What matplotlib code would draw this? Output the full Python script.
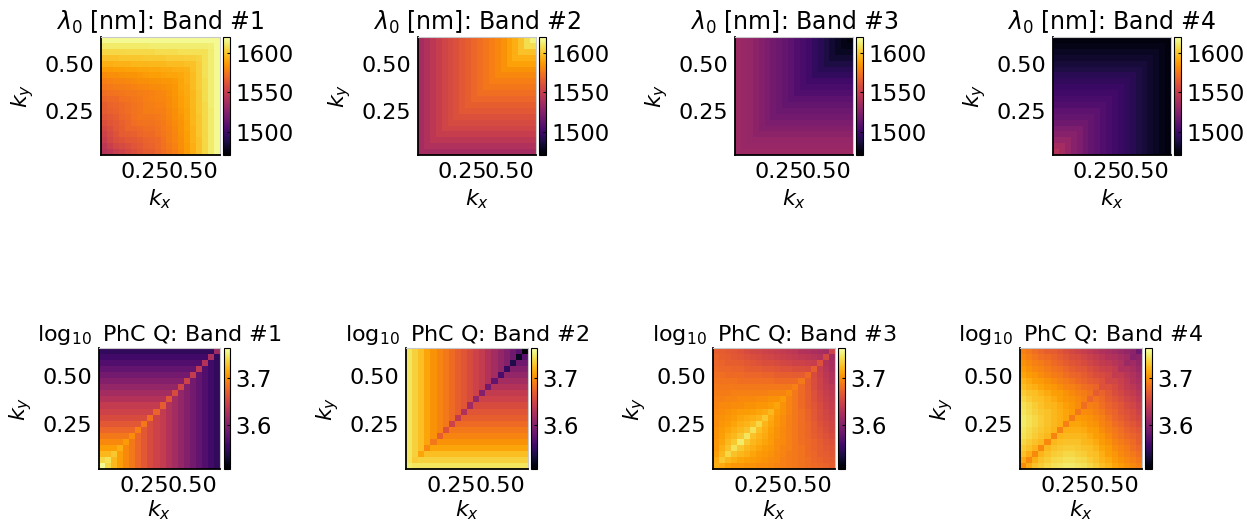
import numpy as np
import matplotlib
matplotlib.use("Agg")
import matplotlib.pyplot as plt
from matplotlib.ticker import FormatStrFormatter

# k grid (20 x 20 cells), both axes
k_lo, k_hi, n_k = 0.015, 0.643, 20

# heatmaps are symmetric in kx <-> ky: each list holds row j (ky index), cells i = 0..j (kx index)
lam_band1 = [
    [1543],
    [1546, 1551],
    [1550, 1555, 1559],
    [1553, 1557, 1561, 1565],
    [1556, 1559, 1563, 1566, 1569],
    [1559, 1562, 1564, 1567, 1569, 1572],
    [1562, 1564, 1566, 1569, 1571, 1573, 1575],
    [1565, 1567, 1568, 1570, 1572, 1574, 1575, 1577],
    [1566, 1568, 1569, 1571, 1572, 1574, 1575, 1577, 1578],
    [1569, 1570, 1571, 1573, 1574, 1575, 1576, 1578, 1579, 1580],
    [1572, 1573, 1574, 1575, 1576, 1576, 1577, 1578, 1579, 1580, 1581],
    [1575, 1576, 1577, 1577, 1578, 1579, 1580, 1581, 1582, 1582, 1583, 1584],
    [1578, 1579, 1580, 1580, 1581, 1582, 1583, 1583, 1584, 1585, 1586, 1586, 1587],
    [1582, 1583, 1583, 1584, 1585, 1585, 1586, 1587, 1588, 1588, 1589, 1590, 1590, 1591],
    [1587, 1587, 1588, 1588, 1589, 1589, 1590, 1590, 1591, 1591, 1592, 1592, 1593, 1593, 1594],
    [1593, 1593, 1594, 1594, 1594, 1595, 1595, 1595, 1596, 1596, 1596, 1597, 1597, 1597, 1598, 1599],
    [1599, 1599, 1599, 1600, 1600, 1600, 1600, 1601, 1601, 1601, 1601, 1602, 1602, 1602, 1603, 1603, 1604],
    [1605, 1605, 1605, 1605, 1606, 1606, 1606, 1606, 1606, 1607, 1607, 1607, 1607, 1608, 1608, 1608, 1608, 1608],
    [1611, 1611, 1611, 1611, 1611, 1611, 1611, 1611, 1612, 1612, 1612, 1612, 1612, 1612, 1612, 1612, 1612, 1612, 1613],
    [1617, 1617, 1617, 1617, 1617, 1617, 1617, 1617, 1617, 1617, 1617, 1617, 1617, 1617, 1617, 1617, 1617, 1617, 1617, 1617],
]

lam_band2 = [
    [1537],
    [1537, 1541],
    [1537, 1541, 1546],
    [1537, 1541, 1546, 1550],
    [1537, 1541, 1546, 1550, 1554],
    [1537, 1541, 1546, 1550, 1554, 1557],
    [1537, 1541, 1546, 1550, 1554, 1557, 1560],
    [1537, 1541, 1546, 1550, 1554, 1557, 1560, 1563],
    [1537, 1541, 1546, 1550, 1554, 1557, 1560, 1563, 1566],
    [1537, 1541, 1546, 1550, 1554, 1557, 1560, 1563, 1566, 1569],
    [1537, 1541, 1546, 1550, 1554, 1557, 1560, 1563, 1566, 1569, 1572],
    [1537, 1541, 1546, 1550, 1554, 1557, 1560, 1563, 1566, 1569, 1572, 1575],
    [1537, 1541, 1546, 1550, 1554, 1557, 1560, 1563, 1566, 1569, 1572, 1575, 1578],
    [1537, 1541, 1546, 1550, 1554, 1557, 1560, 1563, 1566, 1569, 1572, 1575, 1578, 1581],
    [1537, 1541, 1546, 1550, 1554, 1557, 1560, 1563, 1566, 1569, 1572, 1575, 1578, 1581, 1584],
    [1537, 1541, 1546, 1550, 1554, 1557, 1560, 1563, 1566, 1569, 1572, 1575, 1578, 1581, 1584, 1589],
    [1537, 1541, 1546, 1550, 1554, 1557, 1560, 1563, 1566, 1569, 1572, 1575, 1578, 1581, 1584, 1589, 1593],
    [1537, 1541, 1546, 1550, 1554, 1557, 1560, 1563, 1566, 1569, 1572, 1575, 1578, 1581, 1584, 1589, 1593, 1599],
    [1537, 1541, 1546, 1550, 1554, 1557, 1560, 1563, 1566, 1569, 1572, 1575, 1578, 1581, 1584, 1589, 1593, 1599, 1607],
    [1537, 1541, 1546, 1550, 1554, 1557, 1560, 1563, 1566, 1569, 1572, 1575, 1578, 1581, 1584, 1589, 1593, 1599, 1607, 1614],
]

lam_band3 = [
    [1534],
    [1534, 1532],
    [1534, 1532, 1531],
    [1534, 1532, 1531, 1528],
    [1534, 1532, 1531, 1528, 1525],
    [1534, 1532, 1531, 1528, 1525, 1522],
    [1534, 1532, 1531, 1528, 1525, 1522, 1519],
    [1534, 1532, 1531, 1528, 1525, 1522, 1519, 1516],
    [1534, 1532, 1531, 1528, 1525, 1522, 1519, 1516, 1513],
    [1534, 1532, 1531, 1528, 1525, 1522, 1519, 1516, 1513, 1510],
    [1534, 1532, 1531, 1528, 1525, 1522, 1519, 1516, 1513, 1510, 1507],
    [1534, 1532, 1531, 1528, 1525, 1522, 1519, 1516, 1513, 1510, 1507, 1504],
    [1534, 1532, 1531, 1528, 1525, 1522, 1519, 1516, 1513, 1510, 1507, 1504, 1501],
    [1534, 1532, 1531, 1528, 1525, 1522, 1519, 1516, 1513, 1510, 1507, 1504, 1501, 1496],
    [1534, 1532, 1531, 1528, 1525, 1522, 1519, 1516, 1513, 1510, 1507, 1504, 1501, 1496, 1493],
    [1534, 1532, 1531, 1528, 1525, 1522, 1519, 1516, 1513, 1510, 1507, 1504, 1501, 1496, 1493, 1489],
    [1534, 1532, 1531, 1528, 1525, 1522, 1519, 1516, 1513, 1510, 1507, 1504, 1501, 1496, 1493, 1489, 1484],
    [1534, 1532, 1531, 1528, 1525, 1522, 1519, 1516, 1513, 1510, 1507, 1504, 1501, 1496, 1493, 1489, 1484, 1480],
    [1534, 1532, 1531, 1528, 1525, 1522, 1519, 1516, 1513, 1510, 1507, 1504, 1501, 1496, 1493, 1489, 1484, 1480, 1477],
    [1534, 1532, 1531, 1528, 1525, 1522, 1519, 1516, 1513, 1510, 1507, 1504, 1501, 1496, 1493, 1489, 1484, 1480, 1477, 1474],
]

lam_band4 = [
    [1543],
    [1537] * 2,
    [1531] * 3,
    [1526] * 4,
    [1522] * 5,
    [1517] * 6,
    [1513] * 7,
    [1510] * 8,
    [1507] * 9,
    [1504] * 10,
    [1501] * 11,
    [1498] * 12,
    [1495] * 13,
    [1492] * 14,
    [1489] * 15,
    [1486] * 16,
    [1483] * 17,
    [1480] * 18,
    [1477] * 19,
    [1475] * 20,
]

q_band1 = [
    [3.758],
    [3.738, 3.743],
    [3.722, 3.722, 3.730],
    [3.709] * 3 + [3.717],
    [3.697] * 4 + [3.707],
    [3.687] * 5 + [3.699],
    [3.676] * 6 + [3.692],
    [3.666] * 7 + [3.687],
    [3.656] * 8 + [3.681],
    [3.648] * 9 + [3.674],
    [3.641] * 10 + [3.669],
    [3.630] * 11 + [3.664],
    [3.620] * 12 + [3.656],
    [3.610] * 13 + [3.651],
    [3.600] * 14 + [3.648],
    [3.590] * 15 + [3.641],
    [3.579] * 16 + [3.636],
    [3.569] * 17 + [3.630],
    [3.559] * 18 + [3.625],
    [3.549] * 19 + [3.615],
]

q_band2 = [
    [3.750],
    [3.745, 3.732],
    [3.745, 3.735, 3.712],
    [3.745, 3.735, 3.725, 3.697],
    [3.745, 3.735, 3.725, 3.712, 3.687],
    [3.745, 3.735, 3.725, 3.712, 3.702, 3.671],
    [3.745, 3.735, 3.725, 3.712, 3.702, 3.694, 3.661],
    [3.745, 3.735, 3.725, 3.712, 3.702, 3.694, 3.687, 3.648],
    [3.745, 3.735, 3.725, 3.712, 3.702, 3.694, 3.687, 3.679, 3.638],
    [3.745, 3.735, 3.725, 3.712, 3.702, 3.694, 3.687, 3.679, 3.671, 3.628],
    [3.745, 3.735, 3.725, 3.712, 3.702, 3.694, 3.687, 3.679, 3.671, 3.664, 3.618],
    [3.745, 3.735, 3.725, 3.712, 3.702, 3.694, 3.687, 3.679, 3.671, 3.664, 3.656, 3.610],
    [3.745, 3.735, 3.725, 3.712, 3.702, 3.694, 3.687, 3.679, 3.671, 3.664, 3.656, 3.648, 3.600],
    [3.745, 3.735, 3.725, 3.712, 3.702, 3.694, 3.687, 3.679, 3.671, 3.664, 3.656, 3.648, 3.641, 3.590],
    [3.745, 3.735, 3.725, 3.712, 3.702, 3.694, 3.687, 3.679, 3.671, 3.664, 3.656, 3.648, 3.641, 3.630, 3.579],
    [3.745, 3.735, 3.725, 3.712, 3.702, 3.694, 3.687, 3.679, 3.671, 3.664, 3.656, 3.648, 3.641, 3.630, 3.620, 3.564],
    [3.745, 3.735, 3.725, 3.712, 3.702, 3.694, 3.687, 3.679, 3.671, 3.664, 3.656, 3.648, 3.641, 3.630, 3.620, 3.610, 3.551],
    [3.745, 3.735, 3.725, 3.712, 3.702, 3.694, 3.687, 3.679, 3.671, 3.664, 3.656, 3.648, 3.641, 3.630, 3.620, 3.610, 3.600, 3.539],
    [3.745, 3.735, 3.725, 3.712, 3.702, 3.694, 3.687, 3.679, 3.671, 3.664, 3.656, 3.648, 3.641, 3.630, 3.620, 3.610, 3.600, 3.587, 3.523],
    [3.745, 3.735, 3.725, 3.712, 3.702, 3.694, 3.687, 3.679, 3.671, 3.664, 3.656, 3.648, 3.641, 3.630, 3.620, 3.610, 3.600, 3.587, 3.574, 3.511],
]

q_band3 = [
    [3.717],
    [3.715, 3.730],
    [3.709, 3.722, 3.738],
    [3.704, 3.717, 3.727, 3.743],
    [3.704, 3.712, 3.722, 3.730, 3.748],
    [3.702, 3.709, 3.717, 3.722, 3.730, 3.745],
    [3.702, 3.707, 3.712, 3.717, 3.722, 3.727, 3.743],
    [3.699, 3.704, 3.707, 3.712, 3.717, 3.720, 3.725, 3.738],
    [3.699, 3.702, 3.704, 3.707, 3.712, 3.715, 3.717, 3.720, 3.730],
    [3.697, 3.699, 3.702, 3.704, 3.707, 3.707, 3.709, 3.712, 3.715, 3.722],
    [3.694, 3.697, 3.697, 3.699, 3.699, 3.702, 3.702, 3.704, 3.704, 3.707, 3.712],
    [3.692, 3.692, 3.694, 3.694, 3.697, 3.697, 3.697, 3.699, 3.699, 3.702, 3.702, 3.707],
    [3.689, 3.689, 3.689, 3.692, 3.692, 3.692, 3.692, 3.692, 3.692, 3.694, 3.694, 3.694, 3.699],
    [3.687, 3.687, 3.687, 3.687, 3.687, 3.687, 3.687, 3.687, 3.687, 3.687, 3.687, 3.687, 3.687, 3.692],
    [3.684, 3.684, 3.684, 3.684, 3.681, 3.681, 3.681, 3.681, 3.681, 3.681, 3.679, 3.679, 3.679, 3.679, 3.687],
    [3.681, 3.681, 3.679, 3.679, 3.679, 3.676, 3.676, 3.676, 3.674, 3.674, 3.671, 3.671, 3.671, 3.669, 3.669, 3.679],
    [3.679, 3.676, 3.676, 3.674, 3.674, 3.671, 3.669, 3.669, 3.666, 3.666, 3.664, 3.661, 3.661, 3.658, 3.658, 3.656, 3.671],
    [3.676, 3.674, 3.671, 3.671, 3.669, 3.666, 3.664, 3.661, 3.658, 3.658, 3.656, 3.653, 3.651, 3.648, 3.648, 3.646, 3.643, 3.661],
    [3.674, 3.671, 3.669, 3.666, 3.664, 3.661, 3.658, 3.656, 3.653, 3.651, 3.648, 3.646, 3.643, 3.641, 3.638, 3.636, 3.633, 3.630, 3.653],
    [3.671, 3.669, 3.666, 3.664, 3.661, 3.656, 3.653, 3.651, 3.648, 3.646, 3.643, 3.641, 3.638, 3.636, 3.630, 3.628, 3.625, 3.623, 3.620, 3.648],
]

q_band4 = [
    [3.699],
    [3.715, 3.697],
    [3.727, 3.717, 3.697],
    [3.732, 3.727, 3.720, 3.697],
    [3.738, 3.732, 3.727, 3.722, 3.697],
    [3.743, 3.738, 3.732, 3.727, 3.722, 3.694],
    [3.745, 3.740, 3.735, 3.730, 3.725, 3.720, 3.694],
    [3.748, 3.743, 3.738, 3.732, 3.727, 3.722, 3.717, 3.692],
    [3.748, 3.743, 3.738, 3.732, 3.727, 3.722, 3.717, 3.712, 3.689],
    [3.745, 3.740, 3.735, 3.730, 3.727, 3.722, 3.717, 3.712, 3.707, 3.687],
    [3.743, 3.738, 3.732, 3.727, 3.722, 3.720, 3.715, 3.709, 3.704, 3.699, 3.681],
    [3.738, 3.732, 3.727, 3.725, 3.720, 3.715, 3.709, 3.704, 3.702, 3.697, 3.692, 3.676],
    [3.732, 3.727, 3.725, 3.720, 3.715, 3.709, 3.707, 3.702, 3.697, 3.692, 3.689, 3.684, 3.669],
    [3.725, 3.720, 3.717, 3.712, 3.707, 3.704, 3.699, 3.694, 3.692, 3.687, 3.681, 3.679, 3.674, 3.661],
    [3.720, 3.715, 3.709, 3.707, 3.702, 3.697, 3.692, 3.689, 3.684, 3.679, 3.674, 3.669, 3.666, 3.661, 3.651],
    [3.712, 3.707, 3.704, 3.699, 3.694, 3.689, 3.687, 3.681, 3.676, 3.674, 3.669, 3.664, 3.658, 3.656, 3.651, 3.641],
    [3.707, 3.702, 3.697, 3.694, 3.689, 3.684, 3.681, 3.676, 3.671, 3.666, 3.664, 3.658, 3.653, 3.648, 3.646, 3.641, 3.628],
    [3.702, 3.697, 3.692, 3.689, 3.684, 3.679, 3.674, 3.669, 3.664, 3.661, 3.656, 3.651, 3.646, 3.641, 3.638, 3.633, 3.628, 3.615],
    [3.697, 3.692, 3.687, 3.681, 3.679, 3.674, 3.669, 3.664, 3.658, 3.656, 3.651, 3.646, 3.641, 3.636, 3.630, 3.628, 3.623, 3.618, 3.602],
    [3.692, 3.687, 3.681, 3.676, 3.671, 3.669, 3.664, 3.658, 3.653, 3.648, 3.643, 3.638, 3.633, 3.628, 3.625, 3.620, 3.615, 3.610, 3.605, 3.585],
]

lam_titles = [r"$\lambda_0$ [nm]: Band #%d" % b for b in range(1, 5)]
q_titles = [r"$\log_{10}$ PhC Q: Band #%d" % b for b in range(1, 5)]
lam_ticks = [1500, 1550, 1600]
q_ticks = [3.6, 3.7]
k_ticks = [0.25, 0.50]


def full_grid(rows):
    n = len(rows)
    a = np.zeros((n, n))
    for j, r in enumerate(rows):
        a[j, :j + 1] = r
        a[:j + 1, j] = r
    return a


W, H = 1247, 523
fig = plt.figure(figsize=(W / 100, H / 100), dpi=100)


def px_axes(left, top, right, bottom):
    return fig.add_axes([left / W, 1 - bottom / H, (right - left) / W, (bottom - top) / H])


edges = np.linspace(k_lo, k_hi, n_k + 1)

# (image left, right, colorbar left, right) in pixels
top_cols = [(101, 220, 223, 230), (418, 536, 539, 546), (735, 853, 856, 863), (1053, 1171, 1174, 1181)]
bot_cols = [(99, 220, 224, 230), (406, 528, 531, 537), (713, 835, 838, 845), (1020, 1142, 1145, 1152)]

rows_spec = [
    ([lam_band1, lam_band2, lam_band3, lam_band4], lam_titles, 17, 4, (1471, 1620), lam_ticks, "%d", top_cols, (37, 155)),
    ([q_band1, q_band2, q_band3, q_band4], q_titles, 16, 2, (3.508, 3.763), q_ticks, "%.1f", bot_cols, (348, 469)),
]

for grids, titles, tsize, xpad, (vmin, vmax), cticks, cfmt, cols, (top, bottom) in rows_spec:
    for rows, title, (l, r, cl, cr) in zip(grids, titles, cols):
        ax = px_axes(l, top, r, bottom)
        mesh = ax.pcolormesh(edges, edges, full_grid(rows), cmap="inferno",
                             vmin=vmin, vmax=vmax, shading="flat")
        ax.set_xlim(edges[0], edges[-1])
        ax.set_ylim(edges[0], edges[-1])
        ax.set_xticks(k_ticks)
        ax.set_yticks(k_ticks)
        ax.xaxis.set_major_formatter(FormatStrFormatter("%.2f"))
        ax.yaxis.set_major_formatter(FormatStrFormatter("%.2f"))
        ax.tick_params(length=0, labelsize=16, pad=5)
        ax.set_title(title, fontsize=tsize, pad=5)
        ax.set_xlabel(r"$k_x$", fontsize=16, labelpad=xpad)
        ax.set_ylabel(r"$k_y$", fontsize=16, labelpad=6)
        for s in ["left", "bottom"]:
            ax.spines[s].set_linewidth(1.3)
            ax.spines[s].set_color("black")
        for s in ["top", "right"]:
            ax.spines[s].set_linewidth(0.8)
            ax.spines[s].set_color("#c8c8c8")

        cax = px_axes(cl, top, cr, bottom)
        cb = fig.colorbar(mesh, cax=cax, ticks=cticks, format=cfmt)
        cb.outline.set_linewidth(0.8)
        cb.ax.tick_params(labelsize=16.5, length=2, width=0.8, direction="in", pad=4)

fig.savefig("out.png", dpi=100)
